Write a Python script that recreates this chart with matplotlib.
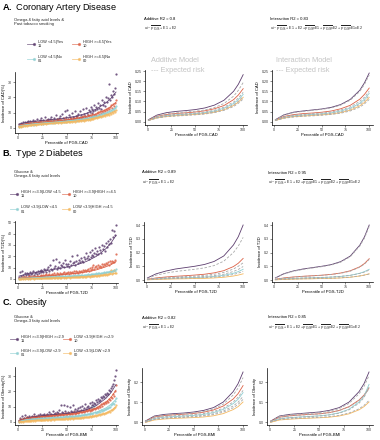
import numpy as np
import matplotlib
matplotlib.use('Agg')
import matplotlib.pyplot as plt
from matplotlib.lines import Line2D

plt.rcParams['font.family'] = ['Liberation Sans', 'DejaVu Sans']
plt.rcParams['mathtext.fontset'] = 'custom'
plt.rcParams['mathtext.rm'] = 'Liberation Sans'
plt.rcParams['mathtext.bf'] = 'Liberation Sans:bold'

# percentiles of the PGS and the grid used for the smooth curves
pct = np.arange(1, 101)
grid = [1, 10, 20, 30, 40, 50, 60, 70, 80, 90, 95, 100]

colors = ['#5C3D6E', '#DC6045', '#8ECFD2', '#F4B860']
codes = ['11', '10', '01', '00']

# ---------------- A. CAD ----------------
cad_labels = ['LOW <4.5|Yes', 'HIGH >=4.5|Yes', 'LOW <4.5|No', 'HIGH >=4.5|No']
cad_11 = [2.5, 1.8, 3.2, 2.0, 3.9, 2.7, 4.1, 3.0, 3.6, 4.4, 3.3, 4.8, 2.9, 4.0, 5.2, 3.7, 4.5, 3.1, 5.6, 4.2,
          3.8, 5.0, 4.6, 6.3, 4.1, 5.4, 3.9, 7.0, 4.8, 5.2, 6.1, 4.4, 5.7, 7.4, 5.0, 4.6, 6.5, 5.3, 8.2, 5.8,
          4.9, 6.6, 7.8, 5.5, 9.0, 6.2, 5.1, 11.2, 6.9, 11.6, 6.0, 8.4, 7.2, 5.9, 9.6, 7.0, 6.4, 10.8, 8.1, 7.5,
          9.2, 6.8, 11.0, 8.6, 7.4, 12.5, 9.4, 8.0, 13.1, 9.8, 8.5, 11.8, 10.2, 14.0, 9.6, 12.6, 10.9, 15.3, 11.5, 13.4,
          12.1, 16.5, 13.0, 14.8, 12.4, 18.2, 15.1, 17.0, 14.3, 20.1, 16.8, 19.5, 29.0, 18.6, 21.4, 20.0, 24.2, 22.5, 26.0, 35.0]
cad_10 = [1.2, 2.0, 1.5, 2.6, 1.8, 2.9, 2.2, 3.1, 2.4, 3.4, 2.7, 3.0, 3.8, 2.5, 3.3, 4.0, 2.9, 3.6, 4.2, 3.1,
          3.9, 3.4, 4.5, 3.0, 4.1, 3.7, 4.8, 3.5, 4.3, 5.0, 3.8, 4.6, 4.0, 5.2, 4.4, 3.9, 5.5, 4.7, 4.2, 5.8,
          4.5, 5.1, 6.0, 4.8, 5.4, 4.6, 6.3, 5.0, 5.7, 4.9, 6.1, 5.3, 5.8, 6.5, 5.2, 6.0, 6.8, 5.6, 6.3, 7.0,
          5.9, 6.7, 7.3, 6.2, 7.0, 7.6, 6.5, 7.9, 7.2, 6.8, 8.2, 7.5, 8.6, 7.1, 8.0, 9.0, 7.7, 8.8, 9.4, 8.3,
          9.6, 10.2, 9.1, 10.8, 9.8, 11.3, 10.5, 12.0, 11.1, 12.6, 11.8, 13.0, 12.4, 13.5, 14.8, 13.2, 15.6, 14.4, 16.5, 18.5]
cad_01 = [0.8, 1.5, 1.1, 2.0, 1.4, 2.3, 1.7, 2.0, 2.6, 1.9, 2.4, 2.8, 2.1, 3.0, 2.5, 2.2, 3.2, 2.7, 3.4, 2.6,
          3.0, 3.5, 2.8, 3.3, 3.8, 2.9, 3.6, 3.1, 4.0, 3.4, 3.2, 4.1, 3.6, 3.0, 4.3, 3.8, 3.5, 4.5, 3.9, 4.2,
          3.7, 4.6, 4.0, 4.4, 3.8, 4.9, 4.2, 4.6, 4.1, 5.1, 4.4, 4.8, 5.3, 4.3, 5.0, 4.7, 5.5, 4.9, 5.2, 4.6,
          5.6, 5.1, 5.8, 5.4, 6.0, 5.2, 6.2, 5.7, 6.4, 5.9, 6.6, 6.1, 6.9, 6.3, 7.2, 6.7, 7.5, 7.0, 7.8, 7.3,
          8.1, 7.6, 8.5, 8.0, 9.0, 8.4, 9.5, 8.9, 10.1, 9.4, 10.6, 10.0, 11.2, 10.5, 11.8, 11.1, 12.4, 12.0, 13.2, 14.5]
cad_00 = [0.6, 1.0, 0.8, 1.4, 1.1, 1.7, 1.3, 1.9, 1.5, 2.1, 1.7, 2.2, 1.9, 2.5, 2.0, 2.7, 2.3, 2.1, 2.8, 2.4,
          2.6, 3.0, 2.5, 2.8, 3.2, 2.7, 3.0, 3.4, 2.9, 3.1, 3.5, 3.0, 3.3, 3.7, 3.1, 3.4, 3.8, 3.2, 3.6, 3.9,
          3.4, 3.7, 4.0, 3.5, 3.9, 3.6, 4.2, 3.8, 4.1, 3.7, 4.3, 3.9, 4.2, 4.5, 4.0, 4.4, 4.7, 4.2, 4.6, 4.9,
          4.4, 4.8, 5.1, 4.6, 5.0, 5.3, 4.8, 5.5, 5.1, 5.7, 5.3, 5.9, 5.5, 6.1, 5.7, 6.4, 6.0, 6.7, 6.2, 7.0,
          6.6, 7.3, 6.9, 7.7, 7.2, 8.1, 7.6, 8.5, 8.0, 8.9, 8.4, 9.3, 8.8, 9.8, 9.2, 10.3, 9.7, 10.8, 10.4, 12.0]
cad_fit = [[2.5, 3.8, 4.6, 5.2, 5.8, 6.6, 7.8, 9.6, 12.4, 16.6, 19.5, 23.5],
           [1.8, 2.8, 3.5, 4.1, 4.6, 5.3, 6.2, 7.4, 9.2, 12.0, 14.0, 16.8],
           [1.4, 2.3, 2.9, 3.4, 3.9, 4.5, 5.2, 6.2, 7.7, 9.8, 11.3, 13.5],
           [1.0, 1.8, 2.5, 3.0, 3.5, 4.0, 4.6, 5.4, 6.6, 8.4, 9.7, 11.3]]
cad_add = [[0.010, 0.033, 0.045, 0.051, 0.055, 0.060, 0.068, 0.082, 0.106, 0.150, 0.185, 0.232],
           [0.008, 0.027, 0.036, 0.041, 0.044, 0.048, 0.054, 0.064, 0.080, 0.109, 0.132, 0.163],
           [0.007, 0.022, 0.030, 0.034, 0.037, 0.040, 0.045, 0.053, 0.067, 0.090, 0.109, 0.135],
           [0.006, 0.019, 0.026, 0.030, 0.033, 0.036, 0.040, 0.047, 0.059, 0.080, 0.097, 0.120]]
cad_add_exp = [[0.009, 0.029, 0.039, 0.044, 0.048, 0.052, 0.058, 0.070, 0.090, 0.126, 0.155, 0.193],
               [0.007, 0.024, 0.032, 0.037, 0.040, 0.043, 0.048, 0.057, 0.072, 0.097, 0.117, 0.145],
               [0.006, 0.021, 0.028, 0.032, 0.035, 0.038, 0.042, 0.050, 0.063, 0.084, 0.101, 0.125],
               [0.006, 0.018, 0.025, 0.028, 0.031, 0.034, 0.038, 0.045, 0.056, 0.075, 0.091, 0.112]]
cad_int = [[0.010, 0.034, 0.047, 0.053, 0.058, 0.063, 0.071, 0.085, 0.110, 0.155, 0.192, 0.240],
           [0.008, 0.026, 0.035, 0.040, 0.043, 0.047, 0.053, 0.064, 0.081, 0.111, 0.135, 0.166],
           [0.007, 0.021, 0.029, 0.033, 0.036, 0.039, 0.044, 0.053, 0.067, 0.091, 0.111, 0.140],
           [0.006, 0.018, 0.025, 0.028, 0.031, 0.034, 0.038, 0.045, 0.057, 0.078, 0.095, 0.120]]
cad_int_exp = [[0.010, 0.033, 0.045, 0.051, 0.056, 0.061, 0.068, 0.082, 0.106, 0.149, 0.184, 0.230],
               [0.008, 0.024, 0.032, 0.036, 0.040, 0.043, 0.048, 0.058, 0.073, 0.100, 0.121, 0.150],
               [0.007, 0.020, 0.027, 0.031, 0.034, 0.037, 0.041, 0.049, 0.062, 0.085, 0.103, 0.130],
               [0.006, 0.017, 0.023, 0.027, 0.029, 0.032, 0.036, 0.042, 0.053, 0.072, 0.088, 0.110]]

# ---------------- B. T2D ----------------
t2d_labels = ['HIGH >=3.9|LOW <4.5', 'HIGH >=3.9|HIGH >=4.5', 'LOW <3.9|LOW <4.5', 'LOW <3.9|HIGH >=4.5']
t2d_11 = [1.5, 5.8, 2.4, 6.9, 3.1, 2.0, 4.8, 3.6, 5.2, 4.0, 3.3, 6.1, 4.5, 5.0, 7.2, 3.9, 5.6, 6.4, 4.7, 7.0,
          5.3, 6.8, 8.1, 5.9, 7.4, 6.2, 9.0, 7.7, 6.5, 8.4, 10.2, 7.1, 12.3, 8.8, 7.6, 16.5, 9.5, 11.0, 17.8, 8.9,
          10.6, 15.2, 9.8, 12.4, 11.3, 14.0, 10.1, 16.8, 12.9, 11.6, 13.5, 10.9, 15.7, 12.2, 20.4, 13.8, 14.6, 12.7, 16.2, 21.5,
          14.1, 17.0, 15.3, 18.6, 16.0, 14.9, 19.4, 17.5, 22.8, 18.2, 20.1, 17.9, 23.6, 19.3, 21.0, 25.4, 20.6, 23.0, 27.1, 22.4,
          24.8, 21.7, 28.5, 25.9, 23.3, 30.2, 26.7, 29.0, 24.6, 31.8, 28.2, 33.5, 30.6, 35.1, 32.0, 43.5, 37.2, 42.0, 38.6, 48.0]
t2d_10 = [0.6, 1.2, 0.8, 1.5, 1.0, 1.8, 1.3, 2.0, 1.1, 1.6, 2.2, 1.4, 1.9, 2.5, 1.7, 2.8, 2.1, 1.8, 3.0, 2.4,
          2.0, 2.7, 3.3, 2.3, 2.9, 3.6, 2.6, 3.1, 4.0, 2.8, 3.4, 4.3, 3.0, 3.7, 4.6, 3.3, 5.2, 3.9, 3.5, 4.8,
          4.1, 3.7, 5.5, 4.4, 4.0, 5.1, 6.0, 4.5, 5.4, 4.8, 5.8, 4.6, 6.3, 5.2, 5.9, 4.9, 6.7, 5.6, 7.1, 6.0,
          5.5, 7.4, 6.4, 6.9, 5.9, 7.8, 7.0, 8.3, 6.6, 7.6, 8.8, 7.3, 9.4, 8.0, 10.8, 8.6, 12.5, 9.2, 10.1, 11.4,
          9.5, 12.0, 10.6, 11.7, 10.2, 12.8, 11.5, 13.4, 12.2, 14.1, 13.0, 14.8, 12.7, 15.5, 14.0, 16.2, 15.1, 14.6, 16.5, 22.0]
t2d_01 = [0.3, 0.6, 0.4, 0.9, 0.5, 0.8, 0.6, 1.1, 0.7, 0.9, 1.2, 0.8, 1.0, 1.4, 0.9, 1.3, 1.1, 1.6, 1.0, 1.4,
          1.2, 1.7, 1.3, 1.1, 1.8, 1.4, 2.0, 1.5, 1.3, 1.9, 1.6, 2.1, 1.4, 1.8, 2.3, 1.7, 2.0, 1.5, 2.4, 1.9,
          2.2, 1.8, 2.6, 2.0, 2.3, 2.8, 2.1, 2.5, 2.0, 2.9, 2.4, 2.7, 2.2, 3.0, 2.6, 2.3, 3.2, 2.8, 2.5, 3.3,
          2.9, 3.5, 2.7, 3.1, 3.7, 3.0, 3.4, 3.9, 3.2, 3.6, 4.1, 3.5, 3.9, 4.4, 3.7, 4.2, 4.7, 4.0, 4.5, 5.0,
          4.3, 4.8, 5.3, 4.6, 5.1, 5.6, 4.9, 5.9, 5.4, 6.2, 5.7, 6.5, 6.0, 6.9, 6.4, 7.3, 6.8, 7.7, 7.2, 8.5]
t2d_00 = [0.1, 0.3, 0.0, 0.4, 0.2, 0.5, 0.1, 0.4, 0.6, 0.3, 0.5, 0.2, 0.7, 0.4, 0.6, 0.3, 0.8, 0.5, 0.7, 0.4,
          0.9, 0.6, 0.8, 0.5, 1.0, 0.7, 0.6, 1.1, 0.8, 0.9, 0.7, 1.2, 0.9, 1.0, 0.8, 1.3, 1.0, 0.9, 1.4, 1.1,
          1.0, 1.5, 1.2, 0.9, 1.3, 1.6, 1.1, 1.4, 1.2, 1.7, 1.3, 1.5, 1.2, 1.8, 1.4, 1.6, 1.3, 1.9, 1.5, 1.7,
          2.0, 1.6, 1.8, 2.2, 1.7, 2.0, 2.4, 1.9, 2.1, 2.5, 2.2, 2.6, 2.0, 2.8, 2.4, 3.0, 2.6, 2.3, 3.2, 2.8,
          3.0, 3.4, 2.7, 3.6, 3.2, 3.8, 3.4, 4.0, 3.6, 4.3, 3.9, 4.6, 4.1, 5.0, 8.0, 4.5, 5.3, 7.5, 4.9, 5.6]
t2d_fit = [[2.5, 4.5, 6.0, 7.5, 9.0, 10.5, 12.5, 15.5, 20.0, 27.0, 32.0, 38.5],
           [0.5, 1.2, 2.0, 2.8, 3.5, 4.2, 5.0, 6.2, 8.0, 10.8, 12.7, 15.3],
           [0.3, 0.8, 1.2, 1.6, 1.9, 2.3, 2.7, 3.3, 4.2, 5.5, 6.5, 7.9],
           [0.1, 0.4, 0.6, 0.8, 1.0, 1.3, 1.6, 2.0, 2.6, 3.5, 4.2, 5.2]]
t2d_add = [[0.015, 0.045, 0.065, 0.080, 0.090, 0.100, 0.113, 0.135, 0.175, 0.255, 0.315, 0.400],
           [0.005, 0.015, 0.022, 0.027, 0.031, 0.036, 0.042, 0.052, 0.068, 0.098, 0.122, 0.157],
           [0.003, 0.008, 0.011, 0.014, 0.016, 0.018, 0.021, 0.026, 0.034, 0.049, 0.061, 0.078],
           [0.001, 0.004, 0.006, 0.008, 0.009, 0.011, 0.012, 0.015, 0.020, 0.029, 0.036, 0.045]]
t2d_add_exp = [[0.010, 0.035, 0.050, 0.062, 0.070, 0.078, 0.088, 0.105, 0.137, 0.200, 0.247, 0.310],
               [0.004, 0.012, 0.018, 0.022, 0.025, 0.029, 0.034, 0.042, 0.055, 0.080, 0.100, 0.125],
               [0.004, 0.010, 0.014, 0.017, 0.020, 0.022, 0.026, 0.032, 0.042, 0.062, 0.077, 0.098],
               [0.002, 0.006, 0.009, 0.011, 0.013, 0.015, 0.017, 0.021, 0.028, 0.040, 0.050, 0.063]]
t2d_int = [[0.015, 0.046, 0.066, 0.080, 0.090, 0.100, 0.112, 0.134, 0.174, 0.253, 0.314, 0.400],
           [0.005, 0.015, 0.022, 0.027, 0.031, 0.035, 0.041, 0.051, 0.067, 0.096, 0.120, 0.155],
           [0.003, 0.008, 0.011, 0.014, 0.016, 0.018, 0.021, 0.026, 0.034, 0.049, 0.061, 0.078],
           [0.001, 0.004, 0.006, 0.008, 0.009, 0.011, 0.012, 0.015, 0.020, 0.029, 0.036, 0.045]]
t2d_int_exp = [[0.014, 0.044, 0.063, 0.077, 0.087, 0.097, 0.109, 0.130, 0.169, 0.246, 0.305, 0.390],
               [0.005, 0.014, 0.021, 0.026, 0.030, 0.034, 0.040, 0.049, 0.064, 0.093, 0.116, 0.150],
               [0.004, 0.009, 0.012, 0.015, 0.017, 0.019, 0.022, 0.027, 0.034, 0.048, 0.058, 0.072],
               [0.002, 0.005, 0.007, 0.009, 0.010, 0.012, 0.013, 0.016, 0.021, 0.030, 0.036, 0.044]]

# ---------------- C. Obesity ----------------
bmi_labels = ['HIGH >=3.9|HIGH >=2.9', 'LOW <3.9|HIGH >=2.9', 'HIGH >=3.9|LOW <2.9', 'LOW <3.9|LOW <2.9']
bmi_11 = [0.8, 2.5, 1.4, 3.6, 1.9, 2.8, 4.5, 2.2, 3.3, 2.6, 3.8, 2.9, 3.4, 4.2, 3.0, 5.0, 3.5, 4.0, 3.2, 4.6,
          3.7, 5.2, 4.1, 3.6, 4.8, 4.3, 5.5, 3.9, 4.7, 5.1, 4.4, 6.2, 4.9, 5.4, 4.6, 7.0, 5.3, 6.0, 5.0, 6.6,
          5.7, 7.8, 5.2, 10.8, 6.3, 5.8, 11.0, 7.2, 6.1, 10.5, 6.8, 5.9, 9.8, 7.4, 6.5, 11.2, 7.0, 8.3, 6.7, 7.9,
          8.8, 7.3, 9.5, 8.1, 10.6, 7.7, 9.1, 11.8, 8.6, 9.9, 10.4, 9.0, 12.2, 10.0, 11.3, 13.0, 10.8, 12.6, 11.5, 14.2,
          12.9, 15.0, 13.6, 14.5, 16.3, 15.4, 17.0, 16.1, 18.5, 17.4, 19.2, 18.0, 21.0, 20.3, 22.5, 23.8, 24.6, 27.5, 30.0, 34.0]
bmi_10 = [0.7, 1.6, 1.1, 2.2, 1.5, 2.6, 1.9, 2.3, 3.0, 2.1, 2.8, 2.4, 3.3, 2.7, 3.1, 3.6, 2.9, 3.4, 3.0, 3.8,
          3.2, 3.5, 4.0, 3.3, 3.9, 3.6, 4.2, 3.4, 4.4, 3.8, 4.1, 3.7, 4.6, 4.0, 4.3, 4.8, 3.9, 4.5, 5.0, 4.2,
          4.7, 5.2, 4.4, 4.9, 5.4, 4.6, 5.1, 5.6, 4.8, 5.3, 5.8, 5.0, 5.5, 6.0, 5.2, 5.7, 6.3, 5.4, 6.1, 6.6,
          5.9, 6.5, 7.0, 6.2, 6.8, 7.4, 6.6, 7.2, 7.9, 7.0, 7.6, 8.3, 7.4, 8.0, 8.8, 7.9, 8.6, 9.4, 8.5, 9.2,
          10.0, 9.1, 10.7, 9.8, 11.5, 10.6, 12.3, 11.4, 13.2, 12.2, 14.0, 13.1, 15.2, 14.3, 16.5, 15.6, 18.0, 17.2, 20.5, 24.0]
bmi_01 = [0.2, 0.9, 0.5, 1.3, 0.8, 1.6, 1.1, 1.4, 1.8, 1.2, 1.7, 1.4, 2.0, 1.6, 1.9, 2.2, 1.7, 2.1, 1.8, 2.4,
          2.0, 2.3, 1.9, 2.5, 2.2, 2.6, 2.1, 2.7, 2.4, 2.2, 2.8, 2.5, 2.3, 2.9, 2.6, 3.0, 2.4, 2.8, 3.1, 2.7,
          3.2, 2.9, 3.4, 3.0, 2.8, 3.5, 3.1, 3.3, 3.6, 3.0, 3.4, 3.7, 3.2, 3.8, 3.5, 3.9, 3.3, 4.0, 3.7, 4.2,
          3.9, 4.4, 4.1, 4.6, 4.3, 4.8, 4.5, 5.0, 4.7, 5.2, 4.9, 5.5, 5.1, 5.8, 9.5, 5.4, 6.1, 10.2, 6.4, 6.0,
          6.7, 6.3, 7.1, 6.8, 7.6, 7.2, 8.1, 7.7, 8.7, 8.2, 9.3, 8.8, 10.0, 9.6, 10.9, 11.5, 12.4, 12.0, 13.6, 15.5]
bmi_00 = [0.0, 0.3, 0.1, 0.5, 0.2, 0.6, 0.4, 0.7, 0.5, 0.8, 0.6, 0.9, 0.7, 1.0, 0.8, 1.1, 0.9, 1.2, 1.0, 1.1,
          1.3, 1.0, 1.2, 1.4, 1.1, 1.5, 1.3, 1.2, 1.6, 1.4, 1.3, 1.7, 1.5, 1.4, 1.8, 1.6, 1.5, 1.9, 1.7, 1.6,
          2.0, 1.8, 1.7, 2.1, 1.9, 2.2, 2.0, 1.8, 2.3, 2.1, 2.0, 2.4, 2.2, 2.5, 2.3, 2.1, 2.6, 2.4, 2.7, 2.5,
          2.8, 2.6, 2.9, 2.7, 3.1, 2.9, 3.2, 3.0, 3.4, 3.2, 3.5, 3.3, 3.7, 3.5, 3.9, 3.7, 4.1, 3.9, 4.4, 4.2,
          4.6, 4.4, 4.9, 4.7, 5.2, 5.0, 5.6, 5.4, 6.0, 5.8, 6.4, 6.2, 6.9, 6.7, 7.5, 7.9, 8.4, 9.0, 9.8, 11.0]
bmi_fit = [[1.0, 2.8, 3.7, 4.4, 5.0, 5.6, 6.5, 8.0, 10.7, 15.6, 19.3, 24.5],
           [0.8, 2.4, 3.2, 3.8, 4.3, 4.8, 5.5, 6.8, 9.0, 13.0, 16.2, 20.8],
           [0.4, 1.6, 2.2, 2.6, 3.0, 3.4, 3.9, 4.8, 6.4, 9.3, 11.6, 14.8],
           [0.1, 0.7, 1.1, 1.4, 1.7, 2.0, 2.4, 3.0, 4.0, 5.8, 7.4, 10.0]]
bmi_add = [[0.005, 0.030, 0.038, 0.042, 0.045, 0.050, 0.058, 0.072, 0.100, 0.152, 0.192, 0.250],
           [0.003, 0.025, 0.032, 0.036, 0.039, 0.043, 0.049, 0.060, 0.080, 0.115, 0.142, 0.182],
           [0.001, 0.018, 0.024, 0.027, 0.030, 0.033, 0.038, 0.047, 0.063, 0.092, 0.114, 0.147],
           [-0.002, 0.010, 0.015, 0.018, 0.020, 0.022, 0.025, 0.031, 0.042, 0.062, 0.077, 0.100]]
bmi_add_exp = [[0.004, 0.027, 0.034, 0.038, 0.041, 0.045, 0.052, 0.065, 0.089, 0.135, 0.170, 0.222],
               [0.002, 0.021, 0.027, 0.031, 0.034, 0.037, 0.042, 0.052, 0.069, 0.100, 0.124, 0.158],
               [0.000, 0.015, 0.020, 0.023, 0.026, 0.029, 0.033, 0.041, 0.055, 0.080, 0.099, 0.128],
               [-0.001, 0.013, 0.018, 0.021, 0.023, 0.026, 0.030, 0.037, 0.049, 0.071, 0.088, 0.113]]
bmi_int = [[0.004, 0.030, 0.038, 0.042, 0.046, 0.050, 0.058, 0.072, 0.100, 0.152, 0.192, 0.250],
           [0.003, 0.024, 0.031, 0.035, 0.038, 0.041, 0.047, 0.058, 0.077, 0.110, 0.135, 0.170],
           [0.000, 0.016, 0.022, 0.025, 0.028, 0.031, 0.036, 0.046, 0.064, 0.100, 0.129, 0.188],
           [-0.002, 0.010, 0.014, 0.017, 0.019, 0.021, 0.024, 0.030, 0.041, 0.061, 0.077, 0.100]]
bmi_int_exp = [[0.004, 0.028, 0.036, 0.040, 0.043, 0.047, 0.054, 0.067, 0.093, 0.141, 0.178, 0.232],
               [0.003, 0.023, 0.030, 0.034, 0.037, 0.040, 0.046, 0.057, 0.075, 0.107, 0.132, 0.166],
               [0.000, 0.016, 0.021, 0.024, 0.027, 0.030, 0.035, 0.044, 0.061, 0.094, 0.122, 0.176],
               [-0.001, 0.012, 0.016, 0.019, 0.021, 0.023, 0.027, 0.033, 0.045, 0.066, 0.083, 0.108]]

r2_add = ['0.8', '0.89', '0.82']
r2_int = ['0.83', '0.95', '0.85']

# figure is laid out in pixels (380 x 440), converted to figure fractions
W, H = 380, 440


def box(x0, y0, x1, y1):
  return [x0 / W, 1 - y1 / H, (x1 - x0) / W, (y1 - y0) / H]


def txt(x, y, s, **kw):
  fig.text(x / W, 1 - y / H, s, va='center', ha='left', **kw)


def style(ax, xlabel, ylabel, xlim, ylim, yticks, yfmt):
  for s in ['top', 'right']:
    ax.spines[s].set_visible(False)
  for s in ['left', 'bottom']:
    ax.spines[s].set_linewidth(0.5)
  ax.set_xlim(*xlim)
  ax.set_ylim(*ylim)
  ax.set_xticks([0, 25, 50, 75, 100])
  ax.set_yticks(yticks)
  ax.set_yticklabels([yfmt % v for v in yticks])
  ax.tick_params(labelsize=2.6, length=1.2, width=0.4, pad=1, colors='#333333')
  ax.set_xlabel(xlabel, fontsize=3, labelpad=1)
  ax.set_ylabel(ylabel, fontsize=3, labelpad=1.5)


def scatter_panel(rect, series, fits, xlabel, ylabel, ylim, yticks):
  ax = fig.add_axes(box(*rect))
  for vals, c in zip(series, colors):
    ax.plot(pct, vals, 'o', ms=1.6, mew=0, color=c, alpha=0.85)
  for fit, c in zip(fits, colors):
    ax.plot(grid, fit, '-', lw=0.55, color=c)
  style(ax, xlabel, ylabel, (-3, 102), ylim, yticks, '%d')
  return ax


def model_panel(rect, solid, dashed, xlabel, ylabel, ylim, yticks, yfmt):
  ax = fig.add_axes(box(*rect))
  for vals, c in zip(solid, colors):
    ax.plot(grid, vals, '-', lw=0.6, color=c)
  for vals in dashed:
    ax.plot(grid, vals, '--', lw=0.6, color='#A8A8A8', dashes=(3, 2))
  style(ax, xlabel, ylabel, (-2.5, 104), ylim, yticks, yfmt)
  return ax


def legend(header, labels, y_head, y_rows, x_cols):
  txt(14, y_head, header, fontsize=3, linespacing=1.2, color='#222222')
  for i, (lab, code, c) in enumerate(zip(labels, codes, colors)):
    yy = y_rows[i // 2]
    x0 = x_cols[i % 2]
    fig.add_artist(Line2D([x0 / W, (x0 + 7) / W], [1 - yy / H, 1 - yy / H],
                          color=c, lw=0.6, alpha=0.7, marker='o', ms=1.3, markevery=[1],
                          transform=fig.transFigure))
    txt(x0 + 11, yy, lab + '\n' + code, fontsize=2.8, linespacing=1.1, color='#222222')


def formula(x, y, interaction):
  s = r'ui ~ $\overline{\mathrm{PGS}}$ + E1 + E2'
  if interaction:
    s += (r' +$\overline{\mathrm{PGS}}$xE1 + $\overline{\mathrm{PGS}}$xE2'
          r' + $\overline{\mathrm{PGS}}$xE1xE2')
  txt(x, y, s, fontsize=2.6, color='#222222')


fig = plt.figure(figsize=(3.8, 4.4), dpi=100)

# ---- row A ----
txt(2, 8, r'$\mathbf{A.}$ Coronary Artery Disease', fontsize=6.6)
legend('Omega-6 fatty acid levels &\nPast tobacco smoking', cad_labels, 22, [44, 59], [27, 72])
scatter_panel((15, 72, 118, 133), [cad_11, cad_10, cad_01, cad_00], cad_fit,
              'Percentile of PGS-CAD', 'Incidence of CAD(%)', (-3.3, 36.6), [0, 10, 20, 30])
txt(144, 19, 'Additive R2 = ' + r2_add[0], fontsize=3)
formula(144, 28.5, False)
model_panel((145, 70, 247, 125), cad_add, cad_add_exp, 'Percentile of PGS-CAD', 'Incidence of CAD',
            (-0.016, 0.255), [0, 0.05, 0.10, 0.15, 0.20, 0.25], '%.2f')
txt(270, 19, 'Interaction R2 = ' + r2_int[0], fontsize=3)
formula(270, 28.5, True)
model_panel((272, 70, 373, 125), cad_int, cad_int_exp, 'Percentile of PGS-CAD', 'Incidence of CAD',
            (-0.016, 0.255), [0, 0.05, 0.10, 0.15, 0.20, 0.25], '%.2f')
txt(151, 61, 'Additive Model', fontsize=5.3, color='#C4C4C4')
txt(151, 70, '--- Expected risk', fontsize=5.3, color='#C4C4C4')
txt(276, 61, 'Interaction Model', fontsize=5.3, color='#C4C4C4')
txt(276, 70, '--- Expected risk', fontsize=5.3, color='#C4C4C4')

# ---- row B ----
txt(2, 153, r'$\mathbf{B.}$ Type 2 Diabetes', fontsize=6.6)
legend('Glucose &\nOmega-6 fatty acid levels', t2d_labels, 174, [194, 209.5], [10, 62])
scatter_panel((15, 221, 118, 283), [t2d_11, t2d_10, t2d_01, t2d_00], t2d_fit,
              'Percentile of PGS-T2D', 'Incidence of T2D(%)', (-3.6, 51.2), [0, 10, 20, 30, 40, 50])
txt(142, 172, 'Additive R2 = ' + r2_add[1], fontsize=3)
formula(142, 183, False)
model_panel((144, 222, 247, 282), t2d_add, t2d_add_exp, 'Percentile of PGS-T2D', 'Incidence of T2D',
            (-0.0145, 0.422), [0, 0.1, 0.2, 0.3, 0.4], '%.1f')
txt(268, 173, 'Interaction R2 = ' + r2_int[1], fontsize=3)
formula(268, 183, True)
model_panel((272, 222, 373, 282), t2d_int, t2d_int_exp, 'Percentile of PGS-T2D', 'Incidence of T2D',
            (-0.0145, 0.422), [0, 0.1, 0.2, 0.3, 0.4], '%.1f')

# ---- row C ----
txt(2, 302, r'$\mathbf{C.}$ Obesity', fontsize=6.6)
legend('Glucose &\nOmega-3 fatty acid levels', bmi_labels, 319, [339, 353], [10, 63])
scatter_panel((15, 367, 118, 425), [bmi_11, bmi_10, bmi_01, bmi_00], bmi_fit,
              'Percentile of PGS-BMI', 'Incidence of Obesity(%)', (-2, 35.9), [0, 10, 20, 30])
txt(142, 318, 'Additive R2 = ' + r2_add[2], fontsize=3)
formula(142, 328, False)
model_panel((142, 368, 247, 425), bmi_add, bmi_add_exp, 'Percentile of PGS-BMI', 'Incidence of Obesity',
            (-0.015, 0.27), [0, 0.1, 0.2], '%.1f')
txt(268, 317, 'Interaction R2 = ' + r2_int[2], fontsize=3)
formula(268, 328, True)
model_panel((267, 368, 373, 425), bmi_int, bmi_int_exp, 'Percentile of PGS-BMI', 'Incidence of Obesity',
            (-0.015, 0.27), [0, 0.1, 0.2], '%.1f')

fig.savefig('out.png', dpi=100)
